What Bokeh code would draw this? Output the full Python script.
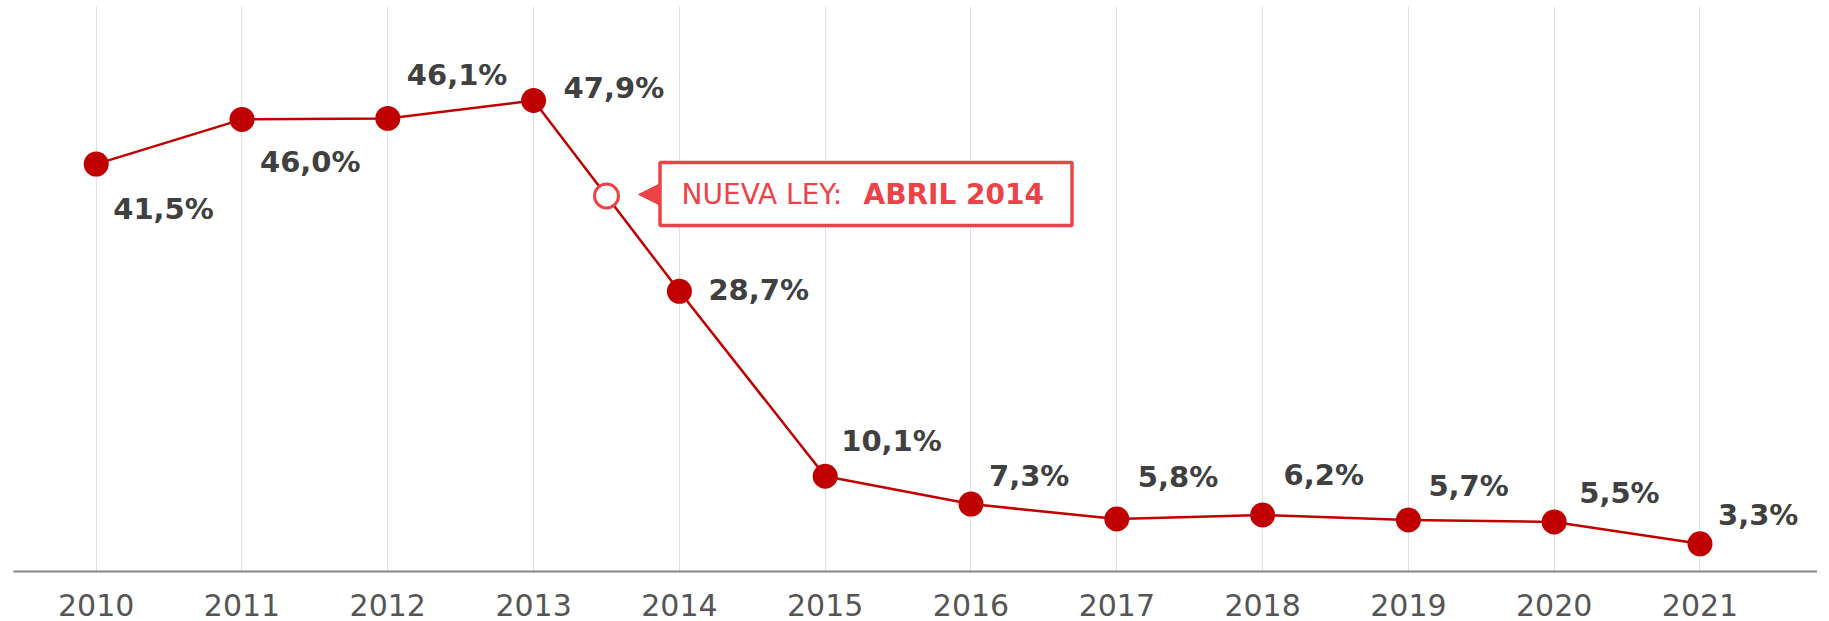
import numpy as np
from bokeh.plotting import figure
from bokeh.models import Range1d, FixedTicker, ColumnDataSource
from bokeh.core.properties import value
from bokeh.embed import file_html
from bokeh.resources import INLINE

# ---- data ----
years = [2010, 2011, 2012, 2013, 2014, 2015, 2016, 2017, 2018, 2019, 2020, 2021]
rates = [41.5, 46.0, 46.1, 47.9, 28.7, 10.1, 7.3, 5.8, 6.2, 5.7, 5.5, 3.3]
tick_labels = [str(y) for y in years]
annot_regular = "NUEVA LEY: "
annot_bold = "ABRIL 2014"
annot_year = 2013.5

# label pixel offsets (style only): dx, dy to baseline
label_dx = [17, 18, 19, 30, 29, 16, 18, 21, 21, 20, 25, 18]
label_dy = [45, 43, -43, -13, -1, -35, -28, -42, -40, -34, -29, -29]

# ---- layout ----
FRAME_W, FRAME_H = 1804, 565
FRAME_LEFT, FRAME_TOP = 13, 6          # page pixels
BOTTOM = 50
x0, x1 = 2009.4328, 2021.8059
y1 = 47.9 + (100 - FRAME_TOP) / 9.94
y0 = y1 - FRAME_H / 9.94
sx = FRAME_W / (x1 - x0)
sy = FRAME_H / (y1 - y0)

def X(px):
    return x0 + (px - FRAME_LEFT) / sx

def Y(py):
    return y1 - (py - FRAME_TOP) / sy

RED = "#C00000"
ARED = "#EE4249"
FONT = "DejaVu Sans"

p = figure(width=FRAME_LEFT + FRAME_W, height=FRAME_TOP + FRAME_H + BOTTOM,
           x_range=Range1d(x0, x1), y_range=Range1d(y0, y1),
           output_backend="svg", toolbar_location=None,
           y_axis_type=None, min_border_left=FRAME_LEFT, min_border_right=0,
           min_border_top=FRAME_TOP, min_border_bottom=BOTTOM)
p.outline_line_color = None
p.background_fill_color = "white"
p.border_fill_color = "white"

ticker = FixedTicker(ticks=years)
p.xaxis.ticker = ticker
p.xaxis.major_label_overrides = {y: s for y, s in zip(years, tick_labels)}
p.xaxis.axis_line_color = "#858585"
p.xaxis.axis_line_width = 2
p.xaxis.major_tick_line_color = None
p.xaxis.minor_tick_line_color = None
p.xaxis.major_label_text_font = FONT
p.xaxis.major_label_text_font_size = "30px"
p.xaxis.major_label_text_color = "#555555"
p.xaxis.major_label_standoff = 16
p.xgrid.ticker = ticker
p.xgrid.grid_line_color = "#e0e0e0"
p.xgrid.grid_line_width = 1
p.ygrid.visible = False

# main series
p.line(years, rates, line_color=RED, line_width=2.5)
p.scatter(years, rates, size=25, fill_color=RED, line_color=None)

# data labels
src = ColumnDataSource(dict(
    x=years, y=rates,
    txt=[f"{v:.1f}".replace(".", ",") + "%" for v in rates],
    dx=label_dx, dy=label_dy))
p.text(x="x", y="y", text="txt", x_offset="dx", y_offset="dy", source=src,
       text_font=value(FONT), text_font_style="bold", text_font_size="29px",
       text_color="#404040", text_align="left", text_baseline="alphabetic")

# annotation marker on the line
annot_y = float(np.interp(annot_year, years, rates))
p.scatter([annot_year], [annot_y], size=24, fill_color="white",
          line_color=ARED, line_width=3)

# callout box
p.quad(left=[X(659.5)], right=[X(1071.5)], top=[Y(162)], bottom=[Y(225)],
       fill_color="white", line_color=ARED, line_width=3.5)
p.patch([X(638), X(660), X(660)], [Y(194), Y(183), Y(205)],
        fill_color=ARED, line_color=ARED, line_width=1)
p.text(x=[X(681)], y=[Y(194)], text=[annot_regular],
       text_font=value(FONT), text_font_size="28px", text_color=ARED,
       text_align="left", text_baseline="alphabetic")
p.text(x=[X(863)], y=[Y(194)], text=[annot_bold],
       text_font=value(FONT), text_font_style="bold", text_font_size="28px",
       text_color=ARED, text_align="left", text_baseline="alphabetic")

open("out.html", "w").write(file_html(p, INLINE))
